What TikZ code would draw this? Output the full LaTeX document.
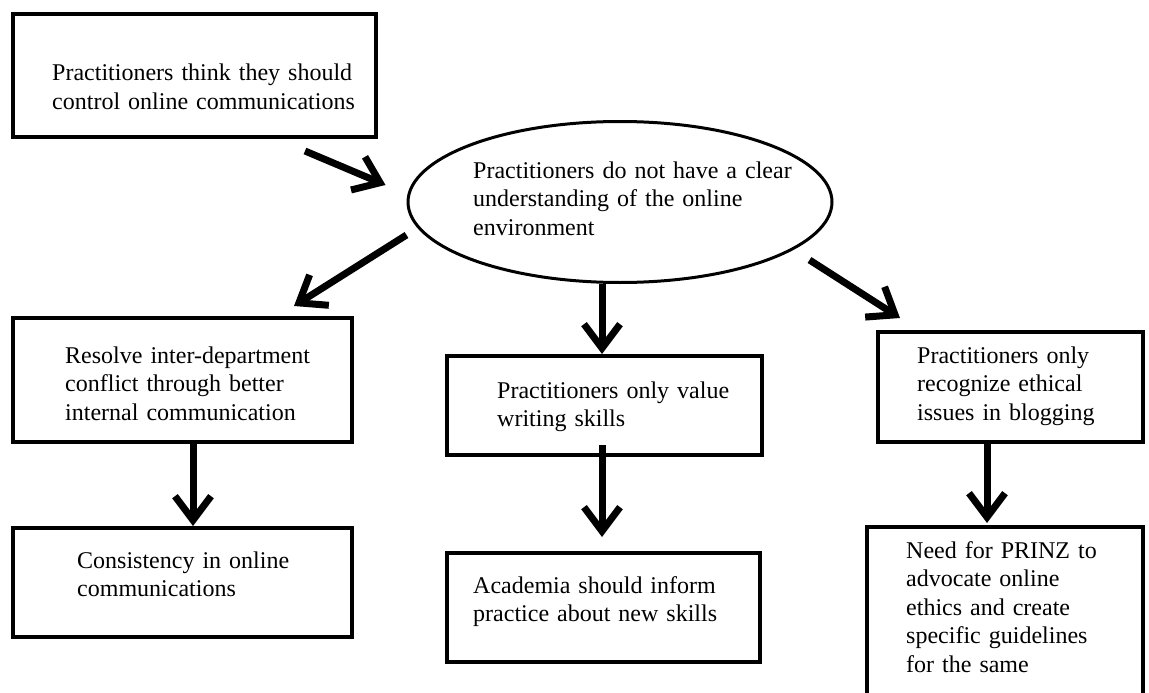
\documentclass[tikz,border=0pt]{standalone}
\usepackage{fontspec}
\setmainfont{Liberation Serif}
\usetikzlibrary{arrows.meta,shapes.geometric,calc}
\begin{document}
\begin{tikzpicture}[x=1pt,y=-1pt,
  box/.style={draw,line width=4pt,rectangle,inner sep=0pt},
  txt/.style={anchor=base west,inner sep=0pt,text width=420pt,align=left,
    font=\fontsize{24}{28.5}\selectfont},
  arr/.style={line width=7pt,-{Straight Barb[length=24pt,width=36pt]}}]
\useasboundingbox (0,0) rectangle (1149,693);
\fill[white] (0,0) rectangle (1149,693);
% boxes
\node[box,minimum width=363pt,minimum height=123pt] (b1) at (194.5,75.5) {};
\node[ellipse,draw,line width=3pt,minimum width=424pt,minimum height=161pt,inner sep=0pt] (ell) at (620,202) {};
\node[box,minimum width=339pt,minimum height=124pt] (res) at (182.5,380) {};
\node[box,minimum width=339pt,minimum height=109pt] (con) at (182.5,582.5) {};
\node[box,minimum width=315pt,minimum height=99pt] (mt) at (604.5,405.5) {};
\node[box,minimum width=313pt,minimum height=109pt] (mb) at (603.5,607.5) {};
\node[box,minimum width=265pt,minimum height=110pt] (rt) at (1010.5,387) {};
\node[box,minimum width=276pt,minimum height=180pt] (rb) at (1005,617) {};
% texts
\node[txt] (t1) at (52,81) {Practitioners think they should\\control online communications};
\node[txt] (t2) at (473,178) {Practitioners do not have a clear\\understanding of the online\\environment};
\node[txt] (t3) at (65,363) {Resolve inter-department\\conflict through better\\internal communication};
\node[txt] (t4) at (77,568) {Consistency in online\\communications};
\node[txt] (t5) at (497,398) {Practitioners only value\\writing skills};
\node[txt] (t6) at (473,593) {Academia should inform\\practice about new skills};
\node[txt] (t7) at (917,363) {Practitioners only\\recognize ethical\\issues in blogging};
\node[txt] (t8) at (906,558) {Need for PRINZ to\\advocate online\\ethics and create\\specific guidelines\\for the same};
% connectors
\draw[arr] ($(b1.south east)+(-73,12)$) -- ($(ell.west)+(-21,-17)$);
\draw[arr] ($(ell.west)+(0,33)$) -- ($(res.north east)+(-60,-10)$);
\draw[arr] ($(ell.south)+(-18,0)$) -- ($(mt.north)+(-2.5,0)$);
\draw[arr] ($(ell.east)+(-24,58)$) -- ($(rt.north west)+(24,-12)$);
\draw[arr] ($(res.south)+(10.5,0)$) -- ($(con.north)+(10.5,0)$);
\draw[arr] ($(mt.south)+(-2.5,-12)$) -- ($(mb.north)+(-1.5,-14)$);
\draw[arr] ($(rt.south)+(-23.5,0)$) -- ($(rb.north)+(-18,-2)$);
\end{tikzpicture}
\end{document}
